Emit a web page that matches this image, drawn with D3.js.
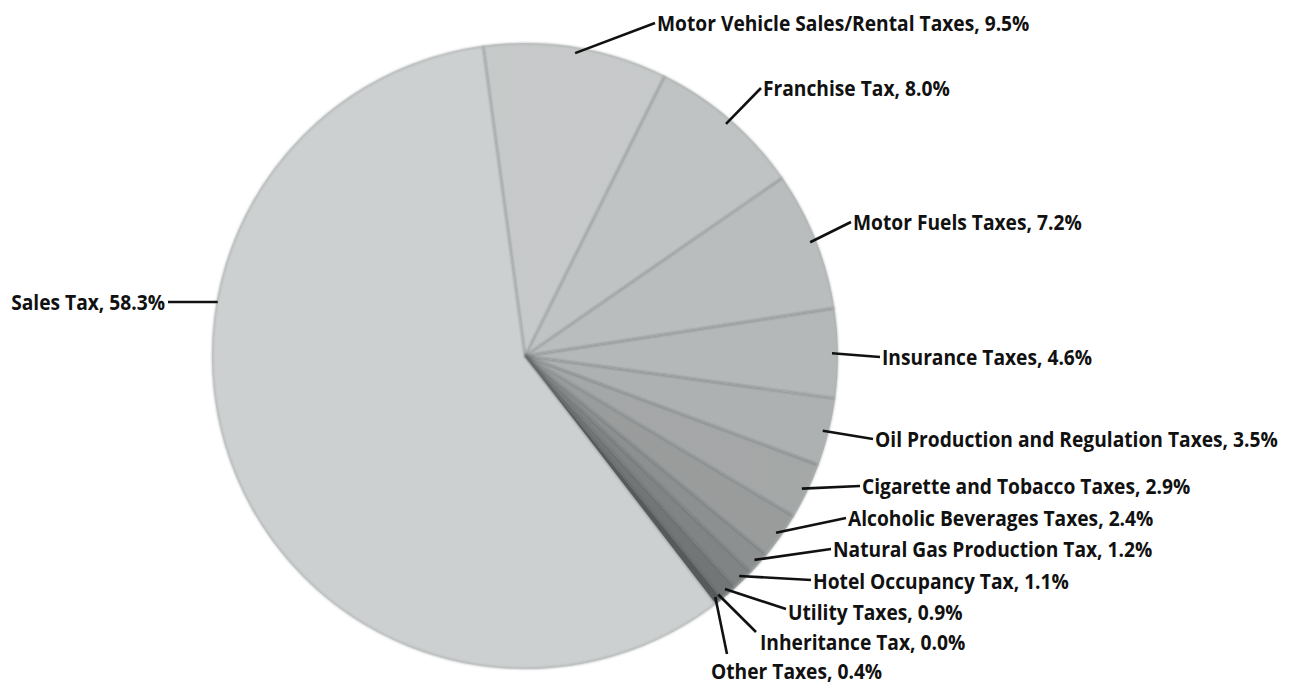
<!DOCTYPE html>
<html>
<head>
<meta charset="utf-8">
<script src="https://cdn.jsdelivr.net/npm/d3@7/dist/d3.min.js"></script>
<style>
  html, body { margin: 0; padding: 0; background: #ffffff; }
  svg { display: block; }
  .lbl { font-family: "Open Sans", "Noto Sans", sans-serif; font-weight: 700; fill: #111; }
</style>
</head>
<body>
<svg id="chart" width="1296" height="686"></svg>
<script>
// ---- data ----
const categories = [
  "Sales Tax", "Motor Vehicle Sales/Rental Taxes", "Franchise Tax", "Motor Fuels Taxes",
  "Insurance Taxes", "Oil Production and Regulation Taxes", "Cigarette and Tobacco Taxes",
  "Alcoholic Beverages Taxes", "Natural Gas Production Tax", "Hotel Occupancy Tax",
  "Utility Taxes", "Inheritance Tax", "Other Taxes"
];
const values = [58.3, 9.5, 8.0, 7.2, 4.6, 3.5, 2.9, 2.4, 1.2, 1.1, 0.9, 0.0, 0.4];
const sliceColors = ["#dfe2e2", "#d8dbdb", "#d1d4d4", "#cacdcd", "#c5c8c8", "#bdc0c0",
  "#b3b6b6", "#a7aaaa", "#999c9c", "#8c8f8f", "#7d8080", "#6d7070", "#5f6262"];
// label text anchor positions (layout)
const labelPos = [
  [165, 302, "end"], [657, 23, "start"], [763, 88, "start"], [853, 222, "start"],
  [882, 357, "start"], [875, 439, "start"], [862, 486, "start"], [848, 518, "start"],
  [833, 549, "start"], [813, 581, "start"], [788, 612, "start"], [760, 642, "start"],
  [711, 671, "start"]
];
// leader line end points (layout, where the line meets the label)
const leaderEnd = [
  [168, 302], [655, 23], [761, 88], [851, 222], [880, 357], [873, 439], [860, 486],
  [846, 518], [831, 549], [811, 580], [786, 609], [756, 632], [727, 654]
];

const svg = d3.select("#chart");
const cx = 525, cy = 356, R = 313;
const startAngle = -7.7 * Math.PI / 180 - 2 * Math.PI * 0.583;

const defs = svg.append("defs");
const rg = defs.append("radialGradient").attr("id", "rim")
  .attr("gradientUnits", "userSpaceOnUse").attr("cx", cx).attr("cy", cy).attr("r", R);
rg.append("stop").attr("offset", "0%").attr("stop-color", "#000").attr("stop-opacity", 0.0);
rg.append("stop").attr("offset", "93%").attr("stop-color", "#000").attr("stop-opacity", 0.0);
rg.append("stop").attr("offset", "100%").attr("stop-color", "#000").attr("stop-opacity", 0.08);
const blur = defs.append("filter").attr("id", "soft");
blur.append("feGaussianBlur").attr("stdDeviation", 1.1);

const pie = d3.pie().sort(null).value(d => d)
  .startAngle(startAngle).endAngle(startAngle + 2 * Math.PI);
const arcs = pie(values);
const arc = d3.arc().innerRadius(0).outerRadius(R);

const g = svg.append("g").attr("transform", `translate(${cx},${cy})`);
g.selectAll("path.slice").data(arcs).enter().append("path")
  .attr("class", "slice")
  .attr("d", arc)
  .attr("fill", (d, i) => sliceColors[i])
  .attr("stroke", "none");

// slice boundary shading lines
const edgeG = g.append("g").attr("filter", "url(#soft)");
arcs.forEach((d, i) => {
  const a = d.startAngle;
  edgeG.append("line")
    .attr("x1", 0).attr("y1", 0)
    .attr("x2", R * Math.sin(a)).attr("y2", -R * Math.cos(a))
    .attr("stroke", "#5f6464").attr("stroke-width", 1.4).attr("stroke-opacity", 0.6);
});
g.append("circle").attr("r", R).attr("fill", "url(#rim)");
g.append("circle").attr("r", R - 0.5).attr("fill", "none").attr("stroke", "#aeb2b2")
  .attr("stroke-width", 1.5).attr("filter", "url(#soft)");

// leader lines & labels
const lab = svg.append("g");
const texts = [];
arcs.forEach((d, i) => {
  const m = (d.startAngle + d.endAngle) / 2;
  let x0, y0;
  if (i === 0) {
    const yy = leaderEnd[0][1];
    x0 = cx - Math.sqrt(R * R - (yy - cy) * (yy - cy)) + 1; y0 = yy;
  } else {
    const rr = R - 6;
    x0 = cx + rr * Math.sin(m); y0 = cy - rr * Math.cos(m);
  }
  const [x1, y1] = leaderEnd[i];
  lab.append("line").attr("x1", x0).attr("y1", y0).attr("x2", x1).attr("y2", y1)
    .attr("stroke", "#111").attr("stroke-width", 2.6);
  const [tx, ty, anchor] = labelPos[i];
  const t = lab.append("text").attr("class", "lbl")
    .attr("dy", "0.35em")
    .attr("text-anchor", anchor)
    .style("font-size", "22px")
    .text(`${categories[i]}, ${values[i].toFixed(1)}%`);
  texts.push({ t, tx, ty });
});
// condense the humanist face horizontally to match the narrow label face
const refW = texts[5].t.node().getComputedTextLength();
const sx = 403 / refW;
texts.forEach(({ t, tx, ty }) => t.attr("transform", `translate(${tx},${ty}) scale(${sx},1)`));
</script>
</body>
</html>
